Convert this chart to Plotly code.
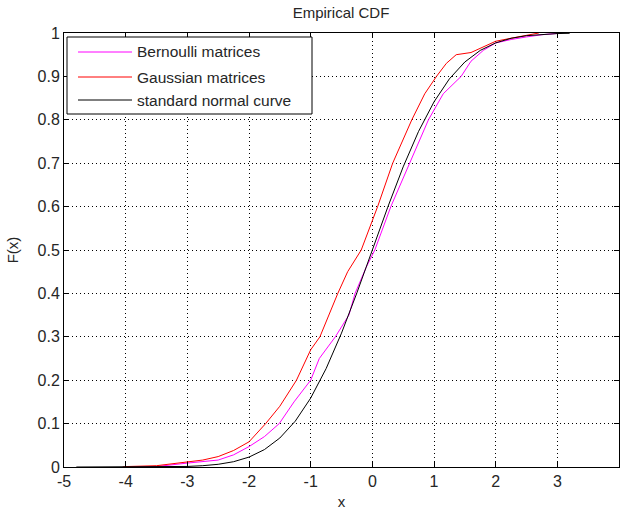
import plotly.graph_objects as go

# Bernoulli matrices empirical CDF
bern_x = [-3.9, -3.5, -3.0, -2.5, -2.25, -2.0, -1.75, -1.51, -1.27, -1.0, -0.86, -0.6, -0.38,
          -0.28, -0.1, 0.04, 0.3, 0.6, 0.91, 1.15, 1.44, 1.6, 1.8, 2.0, 2.25, 2.5, 2.75, 3.08]
bern_y = [0.0, 0.001, 0.009, 0.016, 0.028, 0.047, 0.07, 0.10, 0.15, 0.20, 0.25, 0.30, 0.35,
          0.40, 0.46, 0.50, 0.60, 0.70, 0.80, 0.86, 0.90, 0.935, 0.96, 0.977, 0.985, 0.991, 0.996, 1.0]

# Gaussian matrices empirical CDF
gauss_x = [-4.05, -4.0, -3.5, -3.2, -3.0, -2.75, -2.5, -2.25, -2.0, -1.73, -1.5, -1.23, -1.0,
           -0.85, -0.56, -0.4, -0.18, 0.086, 0.33, 0.64, 0.85, 1.04, 1.2, 1.36, 1.6, 1.75, 1.9,
           2.0, 2.25, 2.5, 2.7]
gauss_y = [0.0, 0.001, 0.003, 0.008, 0.012, 0.016, 0.024, 0.038, 0.058, 0.10, 0.14, 0.20, 0.27,
           0.30, 0.40, 0.45, 0.50, 0.60, 0.70, 0.80, 0.86, 0.90, 0.93, 0.95, 0.955, 0.965, 0.975,
           0.981, 0.988, 0.995, 1.0]

# standard normal curve
norm_x = [-4.8, -4.0, -3.5, -3.0, -2.75, -2.5, -2.25, -2.0, -1.75, -1.5, -1.25, -1.0, -0.75,
          -0.5, -0.25, 0.0, 0.25, 0.5, 0.75, 1.0, 1.25, 1.5, 1.75, 2.0, 2.25, 2.5, 2.75, 3.0, 3.2]
norm_y = [0.0, 0.00003, 0.0002, 0.0013, 0.003, 0.0062, 0.0122, 0.0228, 0.0401, 0.0668, 0.1056,
          0.1587, 0.2266, 0.3085, 0.4013, 0.5, 0.5987, 0.6915, 0.7734, 0.8413, 0.8944, 0.9332,
          0.9599, 0.9772, 0.9878, 0.9938, 0.997, 0.9987, 0.9993]

x_ticks = [-5, -4, -3, -2, -1, 0, 1, 2, 3, 4]
x_labels = ["-5", "-4", "-3", "-2", "-1", "0", "1", "2", "3", "4"]
y_ticks = [0, 0.1, 0.2, 0.3, 0.4, 0.5, 0.6, 0.7, 0.8, 0.9, 1]
y_labels = ["0", "0.1", "0.2", "0.3", "0.4", "0.5", "0.6", "0.7", "0.8", "0.9", "1"]

series_names = ["Bernoulli matrices", "Gaussian matrices", "standard normal curve"]
series_colors = ["#FF00FF", "#FF0000", "#000000"]

FONT = "Liberation Sans, Arial, sans-serif"
TXT = "#262626"

fig = go.Figure()
for xs, ys, nm, col in zip([bern_x, gauss_x, norm_x], [bern_y, gauss_y, norm_y],
                           series_names, series_colors):
    fig.add_trace(go.Scatter(x=xs, y=ys, mode="lines", name=nm,
                             line=dict(color=col, width=1), showlegend=False))

axis_common = dict(
    showline=True, linecolor="black", linewidth=1, mirror="ticks",
    ticks="inside", ticklen=5, tickcolor="black", automargin=False,
    showgrid=True, gridcolor="black", gridwidth=1, griddash="1px,3px",
    zeroline=False, tickfont=dict(family=FONT, size=16, color=TXT),
)

# legend box drawn in paper coordinates (plot area: x 64-619 px, y 33-467 px)
def px_x(p):
    return (p - 64) / 555.0

def px_y(p):
    return (467 - p) / 434.0

shapes = [dict(type="rect", xref="paper", yref="paper",
               x0=px_x(67), x1=px_x(312), y0=px_y(114), y1=px_y(37),
               line=dict(color="black", width=1), fillcolor="white", layer="above")]
annotations = []
row_y = [52, 77, 100]
for nm, col, ry in zip(series_names, series_colors, row_y):
    shapes.append(dict(type="line", xref="paper", yref="paper",
                       x0=px_x(78), x1=px_x(132), y0=px_y(ry), y1=px_y(ry),
                       line=dict(color=col, width=1), layer="above"))
    annotations.append(dict(text=nm, xref="paper", yref="paper", x=px_x(135), y=px_y(ry),
                            xanchor="left", yanchor="middle", showarrow=False,
                            font=dict(family=FONT, size=15.5, color=TXT)))

fig.update_layout(
    width=622, height=510,
    margin=dict(l=64, r=3, t=33, b=43),
    paper_bgcolor="white", plot_bgcolor="white",
    font=dict(family=FONT, size=16, color=TXT),
    title=dict(text="Empirical CDF", x=341 / 622, xanchor="center", y=1 - 13 / 510,
               yanchor="middle", font=dict(family=FONT, size=15, color=TXT)),
    xaxis=dict(range=[-5, 4], tickvals=x_ticks, ticktext=x_labels,
               title=dict(text="x", font=dict(family=FONT, size=15, color=TXT)),
               **axis_common),
    yaxis=dict(range=[0, 1], tickvals=y_ticks, ticktext=y_labels,
               title=dict(text="F(x)", font=dict(family=FONT, size=15, color=TXT)),
               **axis_common),
    shapes=shapes,
    annotations=annotations,
    showlegend=False,
)

fig.write_html("out.html", post_script="document.body.style.margin='0';",
               config={"displayModeBar": False})
